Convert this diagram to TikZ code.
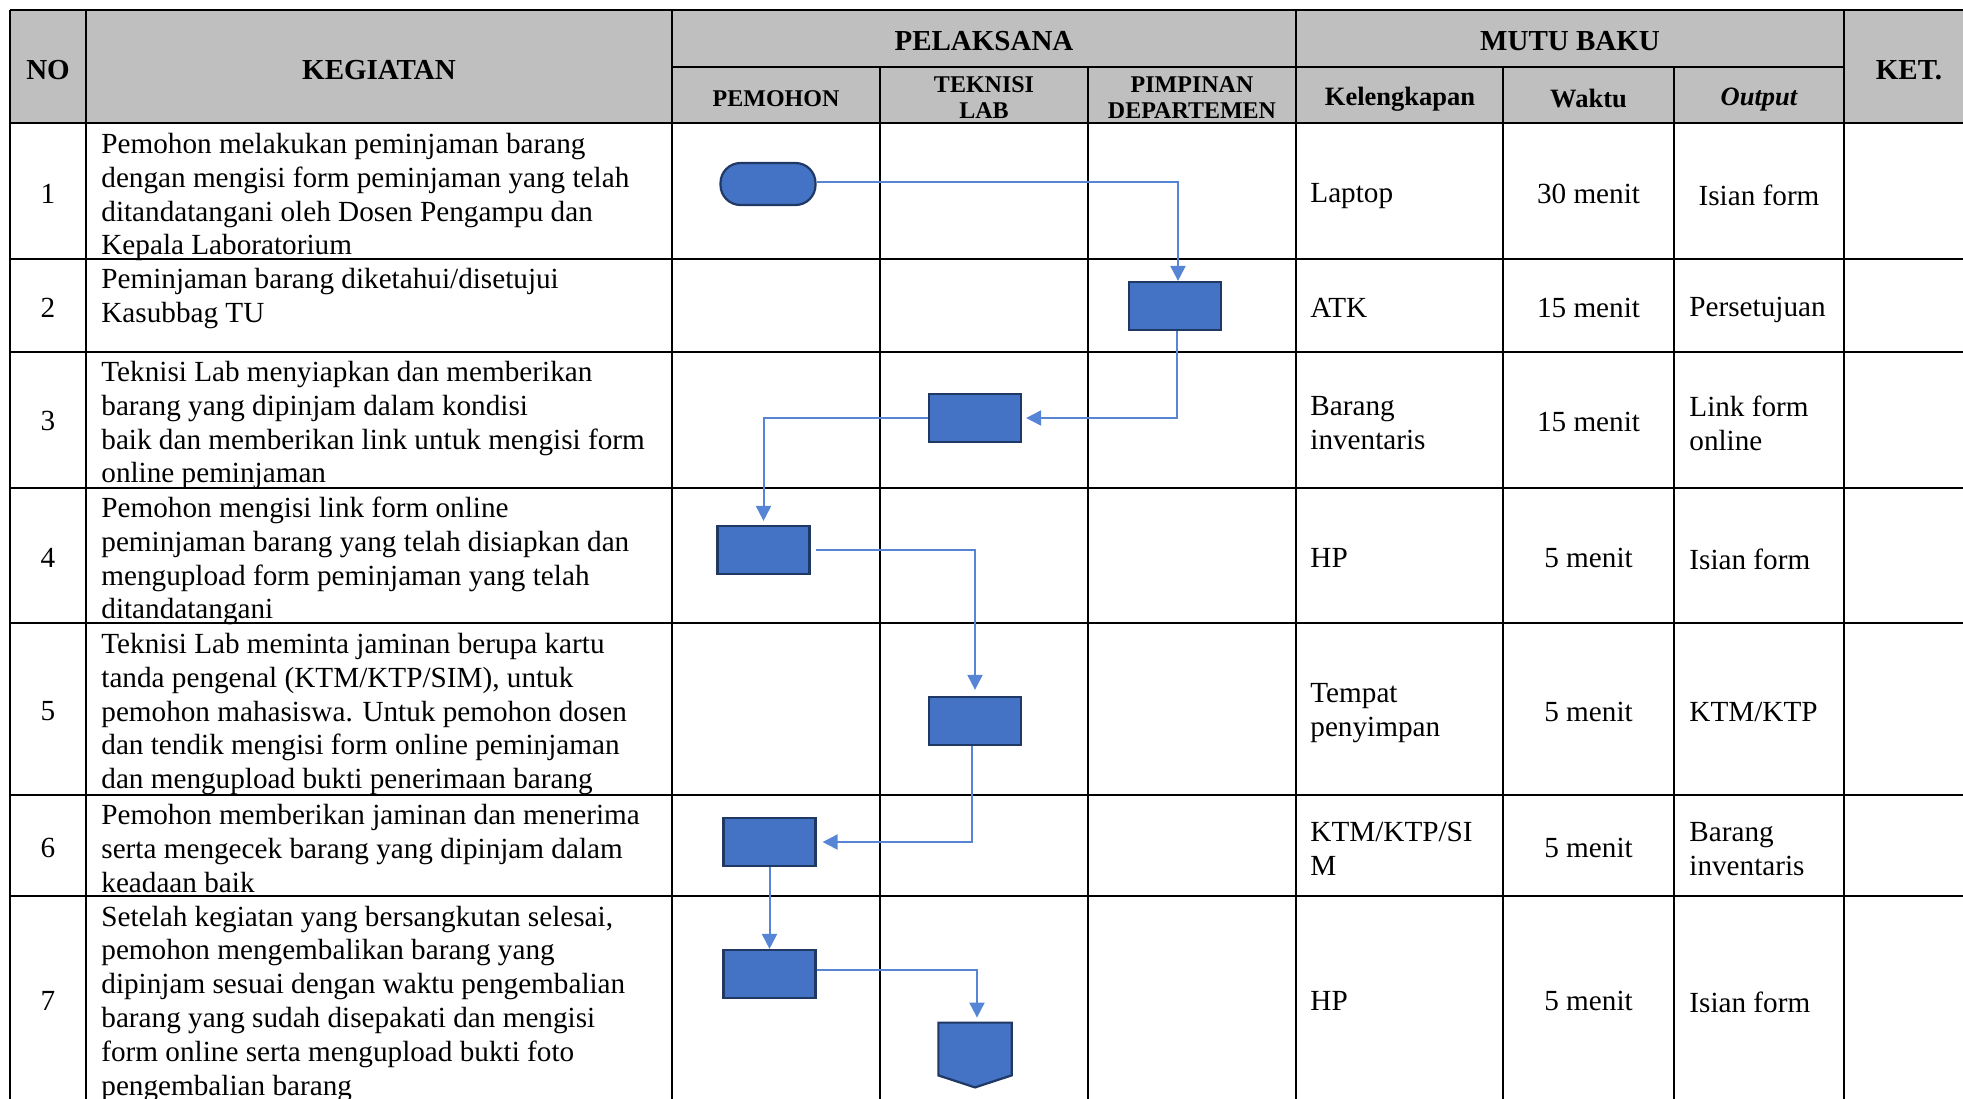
\documentclass[tikz,border=0pt]{standalone}
\usepackage{fontspec}
\setmainfont{Liberation Serif}
\usetikzlibrary{arrows.meta,calc}
\definecolor{hdrgray}{RGB}{191,191,191}
\definecolor{boxfill}{RGB}{68,114,196}
\definecolor{boxline}{RGB}{31,56,100}
\definecolor{connc}{RGB}{86,133,214}
\newcommand\bodyf{\fontsize{14.6pt}{16.9pt}\selectfont}
\newcommand\hbig{\fontsize{14.5pt}{16pt}\selectfont\bfseries}
\newcommand\hsub{\fontsize{12pt}{13pt}\selectfont\bfseries}
\newcommand\hmid{\fontsize{13.25pt}{15pt}\selectfont\bfseries}
\tikzset{
  tline/.style={line width=1.2pt, draw=black},
  cell/.style={font=\bodyf, align=left, anchor=north west, inner sep=0pt},
  num/.style={font=\bodyf, inner sep=0pt},
  rcell/.style={font=\bodyf, align=left, anchor=west, inner sep=0pt},
  ccell/.style={font=\bodyf, align=center, inner sep=0pt},
  hd/.style={font=\hbig, inner sep=0pt},
  hs/.style={font=\hsub, align=center, inner sep=0pt},
  hm/.style={font=\hmid, inner sep=0pt},
  flowbox/.style={draw=boxline, fill=boxfill, line width=1.1pt, minimum width=46pt, minimum height=24pt, inner sep=0pt},
  flowconn/.style={draw=connc, line width=1pt, -{Triangle[length=7.5pt,width=7.5pt]}}
}
\begin{document}
\begin{tikzpicture}[x=0.5pt,y=-0.5pt]
\useasboundingbox (0,0) rectangle (1963,1098);
\clip (0,0) rectangle (1963,1098);
% header background
\fill[hdrgray] (10,10) rectangle (1975,123);
% table lines
\draw[tline] (10,10) -- (1975,10);
\draw[tline] (672,67) -- (1844,67);
\draw[tline] (10,123) -- (1975,123);
\foreach \yy in {259,352,488,623,795,896,1104} \draw[tline] (10,\yy) -- (1975,\yy);
\foreach \xx in {10,86,672,1296,1844,1975} \draw[tline] (\xx,10) -- (\xx,1104);
\foreach \xx in {880,1088,1503,1674} \draw[tline] (\xx,67) -- (\xx,1104);
% headers
\node[hd] (hno) at (48,70) {NO};
\node[hd] (hkeg) at (379,70) {KEGIATAN};
\node[hd] (hket) at (1909,70) {KET.};
\node[hd] (hpel) at (984,41) {PELAKSANA};
\node[hd] (hmutu) at (1570,41) {MUTU BAKU};
\node[hs] (hpem) at (776,98.5) {PEMOHON};
\node[hs] (htek) at (984,97.5) {TEKNISI\\LAB};
\node[hs] (hpim) at (1192,97.5) {PIMPINAN\\DEPARTEMEN};
\node[hm] (hkel) at (1400,99.5) {Kelengkapan};
\node[hm] (hwak) at (1588.5,98.5) {Waktu};
\node[hm, font=\hmid\itshape] (hout) at (1759,99.5) {Output};
% numbers
\node[num] (n1) at (48,194) {1};
\node[num] (n2) at (48,308) {2};
\node[num] (n3) at (48,421) {3};
\node[num] (n4) at (48,558) {4};
\node[num] (n5) at (48,711) {5};
\node[num] (n6) at (48,848) {6};
\node[num] (n7) at (48,1001) {7};
% activities
\node[cell] (t1) at (101,129.5) {\strut Pemohon melakukan peminjaman barang\\dengan mengisi form peminjaman yang telah\\ditandatangani oleh Dosen Pengampu dan\\Kepala Laboratorium};
\node[cell] (t2) at (101,264.5) {\strut Peminjaman barang diketahui/disetujui\\Kasubbag TU};
\node[cell] (t3) at (101,357.5) {\strut Teknisi Lab menyiapkan dan memberikan\\barang yang dipinjam dalam kondisi\\baik dan memberikan link untuk mengisi form\\online peminjaman};
\node[cell] (t4) at (101,493.5) {\strut Pemohon mengisi link form online\\peminjaman barang yang telah disiapkan dan\\mengupload form peminjaman yang telah\\ditandatangani};
\node[cell] (t5) at (101,629.5) {\strut Teknisi Lab meminta jaminan berupa kartu\\tanda pengenal (KTM/KTP/SIM), untuk\\pemohon mahasiswa. Untuk pemohon dosen\\dan tendik mengisi form online peminjaman\\dan mengupload bukti penerimaan barang};
\node[cell] (t6) at (101,800.5) {\strut Pemohon memberikan jaminan dan menerima\\serta mengecek barang yang dipinjam dalam\\keadaan baik};
\node[cell] (t7) at (101,902) {\strut Setelah kegiatan yang bersangkutan selesai,\\pemohon mengembalikan barang yang\\dipinjam sesuai dengan waktu pengembalian\\barang yang sudah disepakati dan mengisi\\form online serta mengupload bukti foto\\pengembalian barang};
% kelengkapan
\node[rcell] (k1) at (1310,196.5) {Laptop};
\node[rcell] (k2) at (1310,308) {ATK};
\node[rcell] (k3) at (1310,423) {Barang\\inventaris};
\node[rcell] (k4) at (1310,558) {HP};
\node[rcell] (k5) at (1310,713) {Tempat\\penyimpan};
\node[rcell] (k6) at (1310,849) {KTM/KTP/SI\\M};
\node[rcell] (k7) at (1310,1001) {HP};
% waktu
\node[ccell] (w1) at (1588.5,194) {30 menit};
\node[ccell] (w2) at (1588.5,308) {15 menit};
\node[ccell] (w3) at (1588.5,422) {15 menit};
\node[ccell] (w4) at (1588.5,558) {5 menit};
\node[ccell] (w5) at (1588.5,712) {5 menit};
\node[ccell] (w6) at (1588.5,848) {5 menit};
\node[ccell] (w7) at (1588.5,1001) {5 menit};
% output
\node[ccell] (o1) at (1759,195) {Isian form};
\node[rcell] (o2) at (1689,310) {Persetujuan};
\node[rcell] (o3) at (1689,423) {Link form\\online};
\node[rcell] (o4) at (1689,559) {Isian form};
\node[rcell] (o5) at (1689,712) {KTM/KTP};
\node[rcell] (o6) at (1689,849) {Barang\\inventaris};
\node[rcell] (o7) at (1689,1002) {Isian form};
% flow shapes
\node[flowbox, rounded corners=10pt, minimum width=47.5pt, minimum height=21pt] (s1) at (768,184) {};
\node[flowbox] (b2) at (1175,306) {};
\node[flowbox] (b3) at (975,418) {};
\node[flowbox] (b4) at (763.5,550) {};
\node[flowbox] (b5) at (975,721) {};
\node[flowbox] (b6) at (769.5,842) {};
\node[flowbox] (b7) at (769.5,974) {};
\node[inner sep=0pt, minimum width=36.25pt, minimum height=32pt] (p7) at (975,1055) {};
\filldraw[draw=boxline, fill=boxfill, line width=1.1pt] (p7.north west) -- (p7.north east) -- ([yshift=6pt]p7.south east) -- (p7.south) -- ([yshift=6pt]p7.south west) -- cycle;
% connectors
\draw[flowconn] ([yshift=1pt]s1.east) -| ([xshift=1.5pt]b2.north);
\draw[flowconn, shorten >=2pt] ([xshift=1pt]b2.south) |- (b3.east);
\draw[flowconn, shorten >=2pt] (b3.west) -| (b4.north);
\draw[flowconn, shorten >=3pt, shorten <=2.5pt] (b4.east) -| (b5.north);
\draw[flowconn, shorten >=3pt] ([xshift=-1.75pt]b5.south) |- (b6.east);
\draw[flowconn] (b6.south) -- (b7.north);
\draw[flowconn, shorten >=2.5pt] ([yshift=2pt]b7.east) -| ([xshift=1pt]p7.north);
\end{tikzpicture}
\end{document}
